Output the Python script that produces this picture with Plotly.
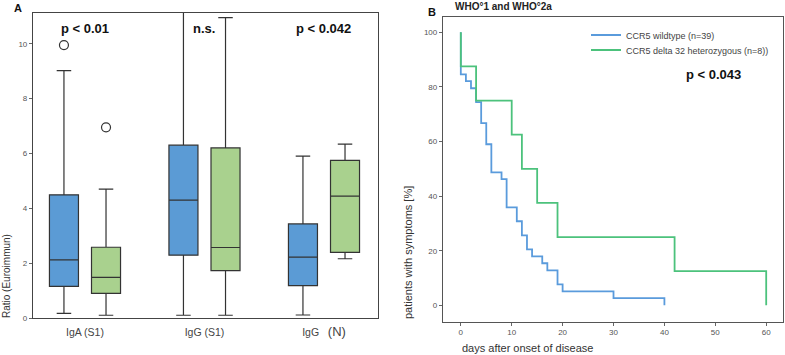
import plotly.graph_objects as go

W, H = 785, 355
FONT = "Liberation Sans, Arial, sans-serif"

# ---------------- Panel A data (box statistics) ----------------
categories = [0, 1, 2]
tick_labels = ["IgA (S1)", "IgG (S1)", "IgG   <span style='font-size:13px'>(N)</span>"]

wt_lowerfence = [0.17, 0.10, 0.11]
wt_q1 = [1.15, 2.29, 1.18]
wt_median = [2.12, 4.30, 2.22]
wt_q3 = [4.49, 6.30, 3.43]
wt_upperfence = [9.02, 12.0, 5.90]

het_lowerfence = [0.10, 0.10, 2.16]
het_q1 = [0.90, 1.73, 2.39]
het_median = [1.48, 2.57, 4.44]
het_q3 = [2.58, 6.20, 5.75]
het_upperfence = [4.70, 10.95, 6.34]

wt_outlier_cat = [0]
wt_outlier_val = [9.95]
het_outlier_cat = [0]
het_outlier_val = [6.95]

p_labels_left = ["p < 0.01", "n.s.", "p < 0.042"]
p_label_y = 10.57

# ---------------- Panel B data (Kaplan-Meier steps) ----------------
km_wt_days = [0, 0, 1, 2, 3, 4, 5, 6, 8, 9, 11, 12, 13, 14, 16, 17, 19, 20, 30, 40]
km_wt_pct = [100, 84.6, 82.1, 79.5, 74.4, 66.7, 59.0, 48.7, 46.2, 35.9, 30.8, 25.6,
             20.5, 17.9, 15.4, 12.8, 7.7, 5.1, 2.6, 0]
km_het_days = [0, 0, 3, 10, 12, 15, 19, 42, 60]
km_het_pct = [100, 87.5, 75, 62.5, 50, 37.5, 25, 12.5, 0]

wt_name = "CCR5 wildtype (n=39)"
het_name = "CCR5 delta 32 heterozygous (n=8))"

BLUE_FILL = "#5b9bd5"
GREEN_FILL = "#a9d18e"
BLUE_LINE = "#5a9bdc"
GREEN_LINE = "#4cc27c"
EDGE = "#333333"

BOXGAP = 0.296
BOXGROUPGAP = 0.31
offset = (1 - BOXGAP) / 4  # centre offset of each box within its group

fig = go.Figure()

fig.add_trace(go.Box(
    x=categories, q1=wt_q1, median=wt_median, q3=wt_q3,
    lowerfence=wt_lowerfence, upperfence=wt_upperfence,
    fillcolor=BLUE_FILL, line=dict(color=EDGE, width=1.2),
    whiskerwidth=0.5, boxpoints=False, showlegend=False,
    xaxis="x", yaxis="y", hoverinfo="skip"))
fig.add_trace(go.Box(
    x=categories, q1=het_q1, median=het_median, q3=het_q3,
    lowerfence=het_lowerfence, upperfence=het_upperfence,
    fillcolor=GREEN_FILL, line=dict(color=EDGE, width=1.2),
    whiskerwidth=0.5, boxpoints=False, showlegend=False,
    xaxis="x", yaxis="y", hoverinfo="skip"))

fig.add_trace(go.Scatter(
    x=[c - offset for c in wt_outlier_cat], y=wt_outlier_val, mode="markers",
    marker=dict(symbol="circle-open", size=9, color=EDGE, line=dict(width=1.2)),
    showlegend=False, xaxis="x", yaxis="y"))
fig.add_trace(go.Scatter(
    x=[c + offset for c in het_outlier_cat], y=het_outlier_val, mode="markers",
    marker=dict(symbol="circle-open", size=9, color=EDGE, line=dict(width=1.2)),
    showlegend=False, xaxis="x", yaxis="y"))

fig.add_trace(go.Scatter(
    x=km_wt_days, y=km_wt_pct, mode="lines", line=dict(shape="hv", color=BLUE_LINE, width=1.8),
    name=wt_name, xaxis="x2", yaxis="y2", legend="legend"))
fig.add_trace(go.Scatter(
    x=km_het_days, y=km_het_pct, mode="lines", line=dict(shape="hv", color=GREEN_LINE, width=1.8),
    name=het_name, xaxis="x2", yaxis="y2", legend="legend2"))

def px_x(p):
    return p / W

def px_y(p):
    return 1 - p / H

def note(x, y, text, size, color="#333", xanchor="center", angle=0, xref="paper", yref="paper"):
    return dict(x=x, y=y, xref=xref, yref=yref, text=text, showarrow=False,
                xanchor=xanchor, yanchor="middle", textangle=angle,
                font=dict(size=size, color=color, family=FONT))

annotations = []
for c, t in zip(categories, p_labels_left):
    annotations.append(note(c, p_label_y, f"<b>{t}</b>", 13, "#111", xref="x", yref="y"))
annotations += [
    note(px_x(18), px_y(8), "<b>A</b>", 11, "#111"),
    note(px_x(6), px_y(276), "Ratio (Euroimmun)", 10, "#333", angle=-90),
    note(px_x(432), px_y(12), "<b>B</b>", 11, "#111"),
    note(px_x(453), px_y(7), "<b>WHO°1 and WHO°2a</b>", 10, "#222", xanchor="left"),
    note(px_x(408), px_y(253), "patients with symptoms [%]", 11, "#333", angle=-90),
    note(px_x(460), px_y(348), "days after onset of disease", 11, "#333", xanchor="left"),
    note(49.7, 84.4, "<b>p < 0.043</b>", 13, "#111", xref="x2", yref="y2"),
]

tickfont = dict(size=8, color="#555", family=FONT)
legfont = dict(size=9, color="#444", family=FONT)

fig.update_layout(
    width=W, height=H, margin=dict(l=0, r=0, t=0, b=0, autoexpand=False),
    paper_bgcolor="white", plot_bgcolor="white",
    boxmode="group", boxgap=BOXGAP, boxgroupgap=BOXGROUPGAP,
    font=dict(family=FONT),
    xaxis=dict(domain=[px_x(33), px_x(378)], range=[-0.435, 2.452],
               tickvals=categories, ticktext=tick_labels, ticks="",
               tickfont=dict(size=10.5, color="#444", family=FONT), ticklabelstandoff=4,
               showline=True, linecolor="#444", linewidth=1.2, mirror=True,
               showgrid=False, zeroline=False, anchor="y"),
    yaxis=dict(domain=[px_y(318), px_y(13)], range=[0, 11.12],
               tickvals=[0, 2, 4, 6, 8, 10], ticks="outside", ticklen=3, tickcolor="#666",
               tickfont=tickfont, showline=True, linecolor="#444", linewidth=1.2, mirror=True,
               showgrid=False, zeroline=False, anchor="x"),
    xaxis2=dict(domain=[px_x(443), px_x(783)], range=[-3.5, 63.3],
                tickvals=[0, 10, 20, 30, 40, 50, 60], ticks="outside", ticklen=3, tickcolor="#666",
                tickfont=tickfont, showline=True, linecolor="#555", linewidth=1.3, mirror=True,
                showgrid=False, zeroline=False, anchor="y2"),
    yaxis2=dict(domain=[px_y(321.7), px_y(17)], range=[-6, 105.6],
                tickvals=[0, 20, 40, 60, 80, 100], ticks="outside", ticklen=3, tickcolor="#666",
                tickfont=tickfont, showline=True, linecolor="#555", linewidth=1.3, mirror=True,
                showgrid=False, zeroline=False, anchor="x2"),
    legend=dict(x=px_x(586), y=px_y(35), xanchor="left", yanchor="middle",
                bgcolor="rgba(0,0,0,0)", font=legfont, itemwidth=30),
    legend2=dict(x=px_x(586), y=px_y(50), xanchor="left", yanchor="middle",
                 bgcolor="rgba(0,0,0,0)", font=legfont, itemwidth=30),
    annotations=annotations,
)

# remove the default 8px page margin so the figure sits at the window's top-left corner
fig.write_html("out.html", config={"displayModeBar": False},
               post_script="document.body.style.margin='0';")
